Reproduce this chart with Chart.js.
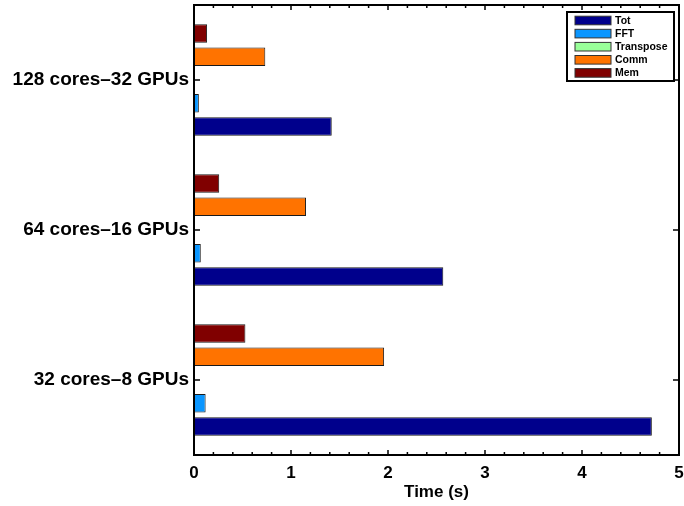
<!DOCTYPE html>
<html>
<head>
<meta charset="utf-8">
<script src="https://cdn.jsdelivr.net/npm/chart.js@4.4.1/dist/chart.umd.min.js"></script>
<style>
  html, body { margin: 0; padding: 0; background: #fff; }
  #wrap { width: 684px; height: 506px; }
</style>
</head>
<body>
<div id="wrap"><canvas id="timeChart" width="684" height="506"></canvas></div>
<script>
// Data, categories listed top to bottom
const categories = ['128 cores\u201332 GPUs', '64 cores\u201316 GPUs', '32 cores\u20138 GPUs'];
const totTimes = [1.42, 2.57, 4.72];
const fftTimes = [0.05, 0.07, 0.12];
const transposeTimes = [0.004, 0.004, 0.004];
const commTimes = [0.735, 1.155, 1.96];
const memTimes = [0.135, 0.26, 0.53];
const xTicks = [0, 1, 2, 3, 4, 5];

const seriesNames = ['Tot', 'FFT', 'Transpose', 'Comm', 'Mem'];
const seriesValues = [totTimes, fftTimes, transposeTimes, commTimes, memTimes];
const seriesColors = ['#00008c', '#0a96ff', '#99ff99', '#ff7300', '#800000'];

// Chart.js puts dataset 0 at the top of each group, Tot sits at the bottom
const datasets = seriesNames.map((name, i) => ({
    label: name,
    data: seriesValues[i],
    backgroundColor: seriesColors[i],
    borderColor: '#1a1a1a',
    borderWidth: 1,
    borderSkipped: false,
    categoryPercentage: 0.775,
    barPercentage: 0.8
})).reverse();

// Box frame with inward ticks, like the original plot
const frameTicks = {
    id: 'frameTicks',
    afterDraw(chart) {
        const { ctx, chartArea: a, scales: { x, y } } = chart;
        ctx.save();
        ctx.strokeStyle = '#000';
        ctx.lineWidth = 1.5;
        ctx.beginPath();
        for (let i = 0; i < xTicks.length; i++) {
            const px = x.getPixelForValue(xTicks[i]);
            ctx.moveTo(px, a.bottom); ctx.lineTo(px, a.bottom - 5);
            ctx.moveTo(px, a.top); ctx.lineTo(px, a.top + 5);
            if (i < xTicks.length - 1) {
                for (let k = 1; k < 5; k++) {
                    const mx = x.getPixelForValue(xTicks[i] + k * 0.2);
                    ctx.moveTo(mx, a.bottom); ctx.lineTo(mx, a.bottom - 3);
                    ctx.moveTo(mx, a.top); ctx.lineTo(mx, a.top + 3);
                }
            }
        }
        categories.forEach((c, i) => {
            const py = y.getPixelForValue(i);
            ctx.moveTo(a.left, py); ctx.lineTo(a.left + 6, py);
            ctx.moveTo(a.right, py); ctx.lineTo(a.right - 6, py);
        });
        ctx.stroke();
        ctx.lineWidth = 2;
        ctx.strokeRect(a.left, a.top, a.right - a.left, a.bottom - a.top);
        ctx.restore();
    }
};

// Legend box in the top right corner of the plot
const boxLegend = {
    id: 'boxLegend',
    afterDraw(chart) {
        const { ctx, chartArea: a } = chart;
        const w = 107, h = 69;
        const left = a.right - w - 5, top = a.top + 7;
        ctx.save();
        ctx.fillStyle = '#fff';
        ctx.fillRect(left, top, w, h);
        ctx.strokeStyle = '#000';
        ctx.lineWidth = 2;
        ctx.strokeRect(left, top, w, h);
        ctx.font = 'bold 10.5px Arial, "Liberation Sans", sans-serif';
        ctx.textBaseline = 'middle';
        seriesNames.forEach((name, i) => {
            const cy = top + 8.5 + i * 13.1;
            ctx.fillStyle = seriesColors[i];
            ctx.fillRect(left + 8, cy - 4.3, 36, 8.6);
            ctx.lineWidth = 1;
            ctx.strokeStyle = '#333';
            ctx.strokeRect(left + 8, cy - 4.3, 36, 8.6);
            ctx.fillStyle = '#000';
            ctx.fillText(name, left + 48, cy + 0.5);
        });
        ctx.restore();
    }
};

new Chart(document.getElementById('timeChart'), {
    type: 'bar',
    data: {
        labels: categories,
        datasets: datasets
    },
    options: {
        indexAxis: 'y',
        responsive: false,
        animation: false,
        layout: { padding: { top: 5, right: 5, bottom: 0, left: 0 } },
        plugins: {
            legend: { display: false },
            tooltip: { enabled: false }
        },
        scales: {
            x: {
                type: 'linear',
                min: 0,
                max: 5,
                afterBuildTicks: scale => { scale.ticks = xTicks.map(v => ({ value: v })); },
                afterFit: scale => {
                    scale.height = 51;
                    scale.paddingLeft = 0;
                    scale.paddingRight = 0;
                },
                grid: { display: false, drawTicks: false },
                border: { display: false },
                ticks: {
                    color: '#000',
                    padding: 8,
                    maxRotation: 0,
                    font: { family: 'Arial, "Liberation Sans", sans-serif', size: 17, weight: 'bold' }
                },
                title: {
                    display: true,
                    text: 'Time (s)',
                    color: '#000',
                    padding: { top: 0, bottom: 3 },
                    font: { family: 'Arial, "Liberation Sans", sans-serif', size: 17, weight: 'bold' }
                }
            },
            y: {
                afterFit: scale => {
                    scale.width = 194;
                    scale.paddingTop = 0;
                    scale.paddingBottom = 0;
                },
                grid: { display: false, drawTicks: false },
                border: { display: false },
                ticks: {
                    color: '#000',
                    padding: 5,
                    font: { family: 'Arial, "Liberation Sans", sans-serif', size: 19, weight: 'bold' }
                }
            }
        }
    },
    plugins: [frameTicks, boxLegend]
});
</script>
</body>
</html>
